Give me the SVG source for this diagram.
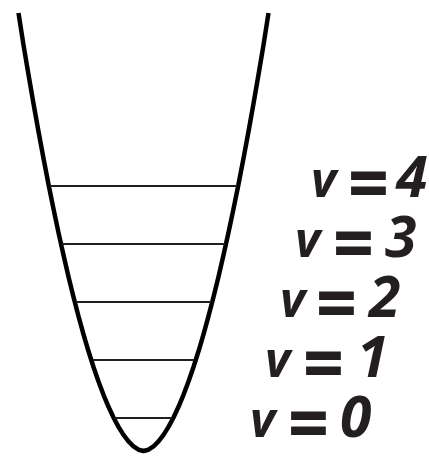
<svg xmlns="http://www.w3.org/2000/svg" width="429" height="456" viewBox="0 0 429 456">
<style>
.well{fill:none;stroke:#000;stroke-width:4.5;stroke-linejoin:round;stroke-linecap:butt}
.lvl{stroke:#231f20;stroke-width:2;fill:none}
.lab{font-family:"Open Sans","Liberation Sans",sans-serif;font-weight:700;fill:#231f20}
.v{font-style:italic;font-size:49px}
.eq{font-style:normal;font-size:78px}
.d{font-style:italic;font-size:57px}
</style>
<rect width="429" height="456" fill="#fff"/>
<g id="well">
<polyline class="well" points="18.5,13 23.5,45 28.5,74.7 33.5,103.7 38.5,131.5 43.5,158.4 48.5,184.2 53.5,208.9 58.5,232.6 63.5,255.1 68.5,276.7 73.5,297 78.5,316.2 83.5,334.3 88.5,351.3 93.5,367 98.5,381.5 103.5,394.8 108.5,406.8 113.5,417.5 118.5,426.9 123.5,434.9 128.5,441.4 133.5,446.4 138.5,449.7 143.5,451 148.5,449.7 153.5,446.4 158.5,441.4 163.5,434.9 168.5,426.9 173.5,417.5 178.5,406.8 183.5,394.8 188.5,381.5 193.5,367 198.5,351.3 203.5,334.3 208.5,316.2 213.5,297 218.5,276.7 223.5,255.1 228.5,232.6 233.5,208.9 238.5,184.2 243.5,158.4 248.5,131.5 253.5,103.7 258.5,74.7 263.5,45 268.5,13"/>
</g>
<g id="levels">
<line class="lvl" x1="50" y1="186" x2="237" y2="186"/>
<line class="lvl" x1="62" y1="244" x2="225" y2="244"/>
<line class="lvl" x1="76" y1="302" x2="211" y2="302"/>
<line class="lvl" x1="93" y1="360" x2="194" y2="360"/>
<line class="lvl" x1="115" y1="418" x2="172" y2="418"/>
</g>
<g id="label-v4"><text class="lab"><tspan class="v" x="311" y="197">v</tspan><tspan class="eq" x="348" y="211" textLength="41" lengthAdjust="spacingAndGlyphs">=</tspan><tspan class="d" x="396" y="197">4</tspan></text></g>
<g id="label-v3"><text class="lab"><tspan class="v" x="295" y="257">v</tspan><tspan class="eq" x="333" y="271" textLength="41" lengthAdjust="spacingAndGlyphs">=</tspan><tspan class="d" x="385" y="257">3</tspan></text></g>
<g id="label-v2"><text class="lab"><tspan class="v" x="280" y="317">v</tspan><tspan class="eq" x="316" y="331" textLength="41" lengthAdjust="spacingAndGlyphs">=</tspan><tspan class="d" x="369" y="317">2</tspan></text></g>
<g id="label-v1"><text class="lab"><tspan class="v" x="265" y="377">v</tspan><tspan class="eq" x="303" y="391" textLength="41" lengthAdjust="spacingAndGlyphs">=</tspan><tspan class="d" x="357" y="377">1</tspan></text></g>
<g id="label-v0"><text class="lab"><tspan class="v" x="250" y="437">v</tspan><tspan class="eq" x="288" y="451" textLength="41" lengthAdjust="spacingAndGlyphs">=</tspan><tspan class="d" x="340" y="437">0</tspan></text></g>
</svg>
